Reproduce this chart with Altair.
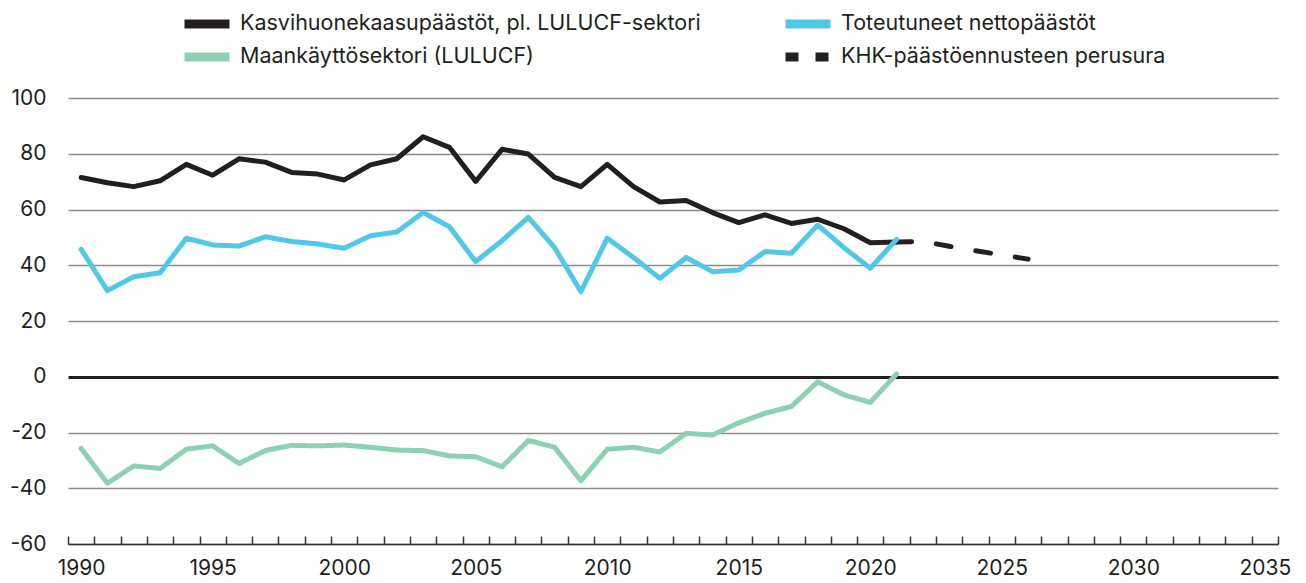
import altair as alt
import pandas as pd

years = list(range(1990, 2022))
total = [71.5, 69.6, 68.2, 70.3, 76.2, 72.3, 78.2, 77.0, 73.3, 72.7,
         70.6, 76.0, 78.2, 86.1, 82.3, 70.1, 81.6, 79.9, 71.5, 68.2,
         76.2, 68.2, 62.7, 63.2, 58.9, 55.3, 58.1, 55.0, 56.5, 53.1,
         48.1, 48.3]
net = [45.7, 30.9, 35.9, 37.3, 49.7, 47.3, 46.9, 50.2, 48.5, 47.6,
       46.1, 50.6, 51.9, 58.9, 53.8, 41.3, 48.8, 57.2, 46.3, 30.5,
       49.7, 42.8, 35.3, 42.8, 37.7, 38.3, 44.9, 44.3, 54.4, 46.3,
       38.9, 49.3]
lulucf = [-25.7, -38.2, -32.0, -32.9, -26.0, -24.8, -31.1, -26.5, -24.6, -24.8,
          -24.5, -25.3, -26.3, -26.5, -28.4, -28.7, -32.3, -22.9, -25.3, -37.3,
          -26.0, -25.3, -27.0, -20.3, -20.9, -16.5, -13.1, -10.7, -1.8, -6.5,
          -9.2, 1.0]
proj_years = [2021, 2022, 2023, 2024, 2025, 2026]
proj = [48.3, 48.6, 46.8, 45.2, 43.7, 42.2]

name_total = "Kasvihuonekaasupäästöt, pl. LULUCF-sektori"
name_net = "Toteutuneet nettopäästöt"
name_lulucf = "Maankäyttösektori (LULUCF)"
name_proj = "KHK-päästöennusteen perusura"
col_total, col_net, col_lulucf, col_proj = "#231f20", "#50c8e6", "#8dd0b4", "#231f20"

label_years = list(range(1990, 2036, 5))
tick_bounds = [y - 0.5 for y in range(1990, 2037)]
y_ticks = list(range(-60, 101, 20))

W, H = 1210, 446
FONT = "Inter"
TXT = "#231f20"

xscale = alt.Scale(domain=[1989.5, 2035.5], nice=False, zero=False)
yscale = alt.Scale(domain=[-60, 100], nice=False, zero=False)

legend_common = dict(
    title=None, orient="none", symbolType="stroke", symbolSize=2025, symbolStrokeWidth=9,
    labelFont=FONT, labelFontSize=21.5, labelColor=TXT, labelOffset=6, labelLimit=700,
)
legend_main = alt.Legend(legendX=112, legendY=-101, columns=2, columnPadding=66,
                         gridAlign="all", **legend_common)
legend_lulucf = alt.Legend(legendX=112, legendY=-68, symbolStrokeColor=col_lulucf,
                           **legend_common)
legend_proj = alt.Legend(legendX=713, legendY=-68, symbolDash=[13, 17],
                         symbolStrokeColor=col_proj, **legend_common)

yaxis = alt.Axis(values=y_ticks, grid=True, domain=False, ticks=False, title=None,
                 labelExpr="toString(datum.value)",
                 labelFont=FONT, labelFontSize=21, labelColor=TXT, labelPadding=22,
                 gridColor={"condition": {"test": "datum.value === 0", "value": "#231f20"}, "value": "#8c8c8c"},
                 gridWidth={"condition": {"test": "datum.value === 0", "value": 3}, "value": 1.3})

xaxis_labels = alt.Axis(values=label_years, format="d", ticks=False, domain=True,
                        domainColor="#333333", domainWidth=1.5, grid=False, title=None,
                        labelFont=FONT, labelFontSize=21, labelColor=TXT, labelPadding=13,
                        labelFlush=False)
xaxis_ticks = alt.Axis(orient="top", offset=-H, values=tick_bounds, labels=False,
                       ticks=True, tickSize=8, tickColor="#333333", tickWidth=1.5,
                       domain=False, grid=False, title=None)

line_style = dict(strokeWidth=5, strokeCap="round", strokeJoin="round")

main_df = pd.concat([
    pd.DataFrame({"year": years, "value": total, "series": name_total}),
    pd.DataFrame({"year": years, "value": net, "series": name_net}),
])
lulucf_df = pd.DataFrame({"year": years, "value": lulucf, "sector": name_lulucf})
proj_df = pd.DataFrame({"year": proj_years, "value": proj, "scenario": name_proj})

proj_layer = alt.Chart(proj_df).mark_line(strokeDash=[15, 25], color=col_proj, **line_style).encode(
    x=alt.X("year:Q", scale=xscale, axis=xaxis_ticks),
    y=alt.Y("value:Q", scale=yscale, axis=yaxis),
    opacity=alt.Opacity("scenario:N", scale=alt.Scale(domain=[name_proj], range=[1]),
                        legend=legend_proj),
)

lulucf_layer = alt.Chart(lulucf_df).mark_line(color=col_lulucf, **line_style).encode(
    x=alt.X("year:Q", scale=xscale, axis=None),
    y=alt.Y("value:Q", scale=yscale, axis=yaxis),
    strokeDash=alt.StrokeDash("sector:N", scale=alt.Scale(domain=[name_lulucf], range=[[1, 0]]),
                              legend=legend_lulucf),
)

main_layer = alt.Chart(main_df).mark_line(**line_style).encode(
    x=alt.X("year:Q", scale=xscale, axis=xaxis_labels),
    y=alt.Y("value:Q", scale=yscale, axis=yaxis),
    color=alt.Color("series:N", scale=alt.Scale(domain=[name_total, name_net],
                                                range=[col_total, col_net]),
                    legend=legend_main),
)

chart = alt.layer(proj_layer, lulucf_layer, main_layer).resolve_axis(x="independent").properties(
    width=W, height=H, autosize="none", background="white",
    padding={"left": 60, "top": 90, "right": 20, "bottom": 38},
).configure_view(stroke=None)

chart.save("out.html", embed_options={"renderer": "svg", "actions": False})
